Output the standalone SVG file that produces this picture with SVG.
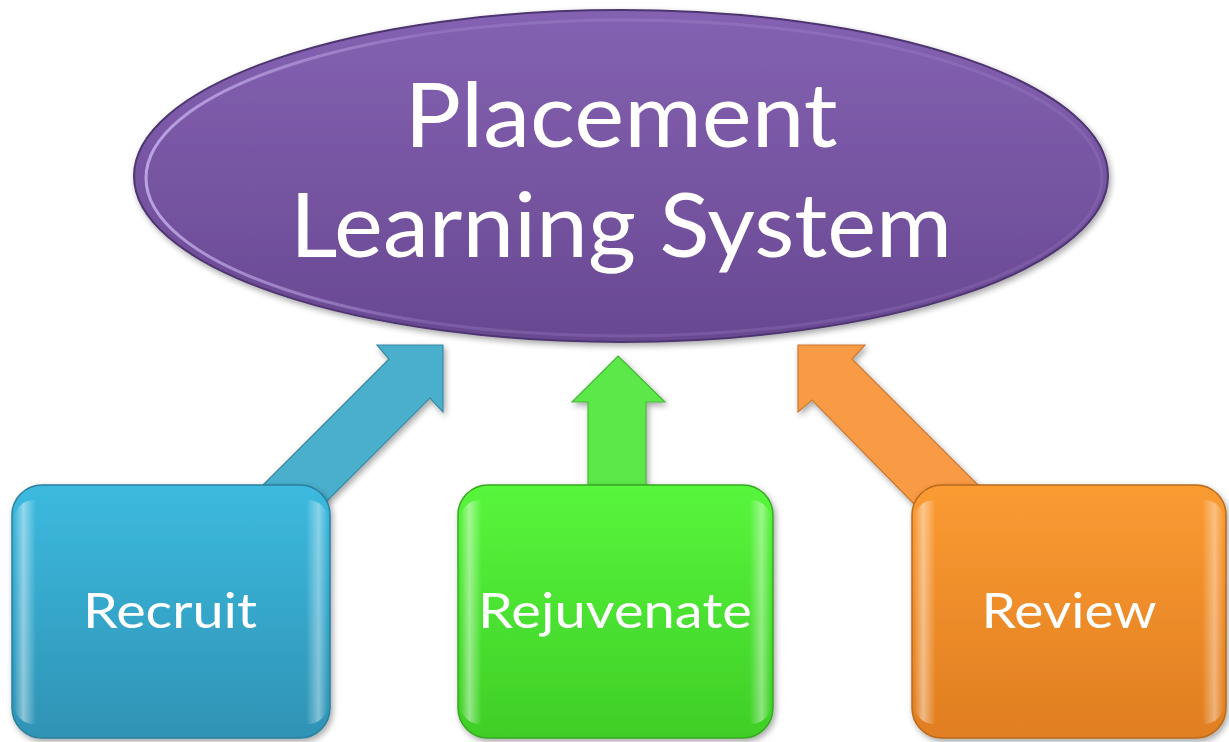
<svg xmlns="http://www.w3.org/2000/svg" width="1229" height="742" viewBox="0 0 1229 742">
  <defs>
    <linearGradient id="gPurple" x1="0" y1="0" x2="0" y2="1">
      <stop offset="0" stop-color="#8462b2"/>
      <stop offset="1" stop-color="#694892"/>
    </linearGradient>
    <linearGradient id="gBlue" x1="0" y1="0" x2="0" y2="1">
      <stop offset="0" stop-color="#3cbadf"/>
      <stop offset="1" stop-color="#2f93b5"/>
    </linearGradient>
    <linearGradient id="gGreen" x1="0" y1="0" x2="0" y2="1">
      <stop offset="0" stop-color="#58f63c"/>
      <stop offset="1" stop-color="#3fce27"/>
    </linearGradient>
    <linearGradient id="gOrange" x1="0" y1="0" x2="0" y2="1">
      <stop offset="0" stop-color="#fb9b33"/>
      <stop offset="1" stop-color="#e07e20"/>
    </linearGradient>
    <linearGradient id="edgeShine" x1="0" y1="0" x2="1" y2="0">
      <stop offset="0" stop-color="#fff" stop-opacity="0"/>
      <stop offset="0.03" stop-color="#fff" stop-opacity="0.45"/>
      <stop offset="0.07" stop-color="#fff" stop-opacity="0"/>
      <stop offset="0.93" stop-color="#fff" stop-opacity="0"/>
      <stop offset="0.97" stop-color="#fff" stop-opacity="0.4"/>
      <stop offset="1" stop-color="#fff" stop-opacity="0"/>
    </linearGradient>
    <linearGradient id="rimShine" x1="0" y1="0" x2="1" y2="0">
      <stop offset="0" stop-color="#d8c4ff" stop-opacity="0.7"/>
      <stop offset="0.3" stop-color="#d8c4ff" stop-opacity="0.15"/>
      <stop offset="1" stop-color="#d8c4ff" stop-opacity="0.1"/>
    </linearGradient>
    <filter id="shadow" x="-10%" y="-10%" width="125%" height="125%">
      <feGaussianBlur in="SourceAlpha" stdDeviation="3"/>
      <feOffset dx="2" dy="3" result="b"/>
      <feComponentTransfer><feFuncA type="linear" slope="0.35"/></feComponentTransfer>
      <feMerge><feMergeNode/><feMergeNode in="SourceGraphic"/></feMerge>
    </filter>
    <style>
      .label { font-family: Lato, "Open Sans", "Liberation Sans", sans-serif; fill: #ffffff; text-anchor: middle; }
      .box { stroke-width: 1.5; }
      .arrow { stroke-width: 1.2; }
    </style>
  </defs>

  <!-- connectors: block arrows from the three boxes up to the system ellipse -->
  <g id="connectors" filter="url(#shadow)">
    <path class="arrow" fill="#4aafcc" stroke="#3a8aa3"
          d="M443,345 L443,412 L430,398 L325,503 L260,488 L389,359 L377,345 Z"/>
    <path class="arrow" fill="#5ce84a" stroke="#48b83a"
          d="M618,356 L665,402 L646,402 L646,490 L588,490 L588,402 L572,402 Z"/>
    <path class="arrow" fill="#f99a45" stroke="#c97a35"
          d="M798,345 L865,345 L852,359 L980,487 L915,505 L812,400 L798,412 Z"/>
  </g>

  <!-- central ellipse -->
  <g id="node-system" filter="url(#shadow)">
    <ellipse cx="621" cy="176" rx="487" ry="166" fill="url(#gPurple)" stroke="#4e3570" stroke-width="2"/>
    <ellipse cx="624" cy="178" rx="478" ry="158" fill="none" stroke="url(#rimShine)" stroke-width="3"/>
    <text class="label" x="621" y="147" font-size="90" textLength="433" lengthAdjust="spacingAndGlyphs">Placement</text>
    <text class="label" x="621" y="257" font-size="90" textLength="662" lengthAdjust="spacingAndGlyphs">Learning System</text>
  </g>

  <!-- bottom boxes -->
  <g id="node-recruit" filter="url(#shadow)">
    <rect class="box" x="12" y="485" width="318" height="253" rx="30" fill="url(#gBlue)" stroke="#2a7f9c"/>
    <rect x="14" y="500" width="314" height="224" rx="20" fill="url(#edgeShine)"/>
    <text class="label" x="170" y="628" font-size="49" textLength="174" lengthAdjust="spacingAndGlyphs">Recruit</text>
  </g>

  <g id="node-rejuvenate" filter="url(#shadow)">
    <rect class="box" x="458" y="485" width="315" height="253" rx="30" fill="url(#gGreen)" stroke="#35a820"/>
    <rect x="460" y="500" width="311" height="224" rx="20" fill="url(#edgeShine)"/>
    <text class="label" x="615" y="628" font-size="49" textLength="274" lengthAdjust="spacingAndGlyphs">Rejuvenate</text>
  </g>

  <g id="node-review" filter="url(#shadow)">
    <rect class="box" x="912" y="485" width="314" height="253" rx="30" fill="url(#gOrange)" stroke="#b86a1c"/>
    <rect x="914" y="500" width="310" height="224" rx="20" fill="url(#edgeShine)"/>
    <text class="label" x="1069" y="628" font-size="49" textLength="175" lengthAdjust="spacingAndGlyphs">Review</text>
  </g>
</svg>
